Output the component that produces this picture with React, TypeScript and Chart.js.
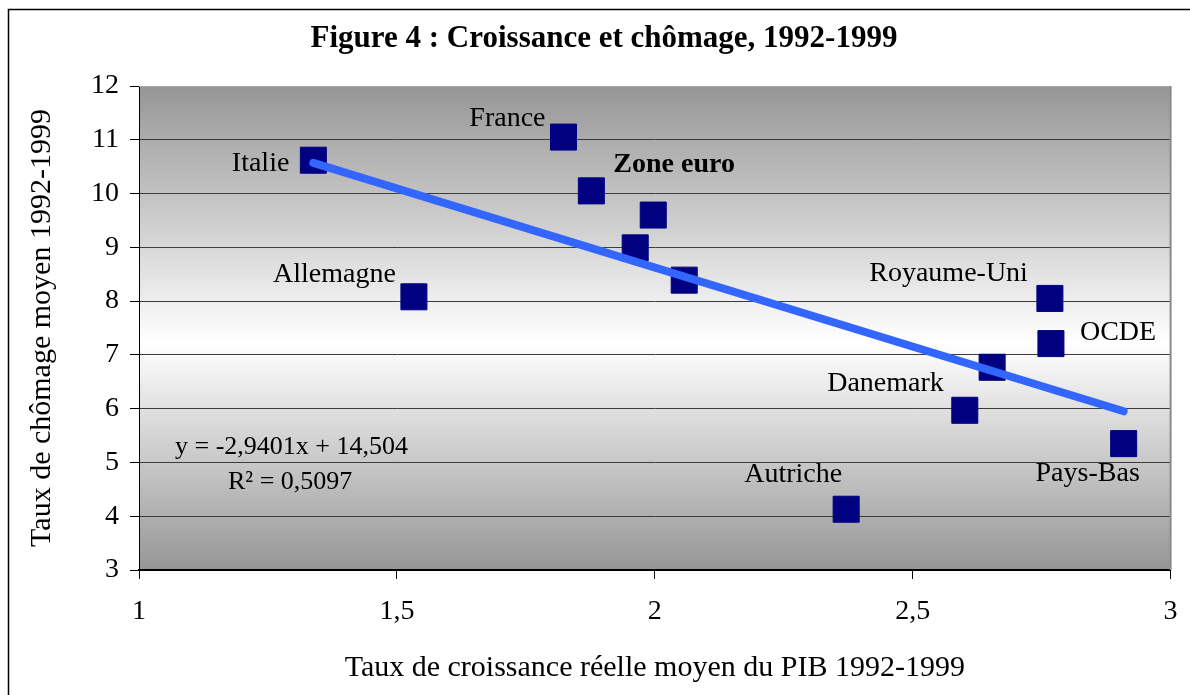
import React, { useEffect, useRef } from 'react';
import { Chart, registerables } from 'chart.js';

Chart.register(...registerables);

// ---- Data ----
const chartTitle = 'Figure 4 : Croissance et chômage, 1992-1999';
const xAxisTitle = 'Taux de croissance réelle moyen du PIB 1992-1999';
const yAxisTitle = 'Taux de chômage moyen 1992-1999';

const countryNames = ['Italie', 'France', 'Zone euro', '', '', '', 'Allemagne', 'Royaume-Uni', 'OCDE', '', 'Danemark', 'Pays-Bas', 'Autriche'];
const growthRates = [1.338, 1.823, 1.877, 1.997, 1.962, 2.057, 1.533, 2.766, 2.768, 2.654, 2.601, 2.909, 2.371];
const unemploymentRates = [10.62, 11.05, 10.05, 9.6, 8.99, 8.39, 8.08, 8.05, 7.21, 6.77, 5.97, 5.35, 4.13];

const trendSlope = -2.9401;
const trendIntercept = 14.504;
const rSquared = 0.5097;
const trendFrom = 1.338;
const trendTo = 2.909;

const xMin = 1;
const xMax = 3;
const xStep = 0.5;
const yMin = 3;
const yMax = 12;
const yStep = 1;

// ---- Styling (label placement relative to each point, in px) ----
const labelPlacement: { dx: number; dy: number; align: CanvasTextAlign; bold?: boolean }[] = [
  { dx: -24, dy: 3, align: 'right' },   // Italie
  { dx: -18, dy: -18, align: 'right' }, // France
  { dx: 22, dy: -26, align: 'left', bold: true }, // Zone euro
  { dx: 0, dy: 0, align: 'left' },
  { dx: 0, dy: 0, align: 'left' },
  { dx: 0, dy: 0, align: 'left' },
  { dx: -18, dy: -22, align: 'right' }, // Allemagne
  { dx: -22, dy: -25, align: 'right' }, // Royaume-Uni
  { dx: 29, dy: -11, align: 'left' },   // OCDE
  { dx: 0, dy: 0, align: 'left' },
  { dx: -21, dy: -27, align: 'right' }, // Danemark
  { dx: -36, dy: 30, align: 'center' }, // Pays-Bas
  { dx: -53, dy: -35, align: 'center' }, // Autriche
];

const SERIF = '"Liberation Serif", "Times New Roman", serif';
const fmt = (v: number) => String(v).replace('.', ',');

const decorPlugin = {
  id: 'decor',
  beforeDraw(chart: any) {
    const { ctx, chartArea: a } = chart;
    ctx.save();
    ctx.fillStyle = '#ffffff';
    ctx.fillRect(0, 0, chart.width, chart.height);
    // outer frame
    ctx.strokeStyle = '#000000';
    ctx.lineWidth = 1.5;
    ctx.beginPath();
    ctx.moveTo(8.5, chart.height + 5);
    ctx.lineTo(8.5, 9.5);
    ctx.lineTo(chart.width + 5, 9.5);
    ctx.stroke();
    // plot area gradient
    const g = ctx.createLinearGradient(0, a.top, 0, a.bottom);
    g.addColorStop(0, '#969696');
    g.addColorStop(0.53, '#ffffff');
    g.addColorStop(1, '#969696');
    ctx.fillStyle = g;
    ctx.fillRect(a.left, a.top, a.right - a.left, a.bottom - a.top);
    ctx.restore();
  },
  beforeDatasetsDraw(chart: any) {
    const { ctx, chartArea: a } = chart;
    ctx.save();
    ctx.strokeStyle = '#a6a6a6';
    ctx.lineWidth = 1;
    ctx.beginPath();
    ctx.moveTo(a.left, a.top + 0.5);
    ctx.lineTo(a.right, a.top + 0.5);
    ctx.stroke();
    ctx.strokeStyle = '#8a8a8a';
    ctx.lineWidth = 2;
    ctx.beginPath();
    ctx.moveTo(a.right, a.top);
    ctx.lineTo(a.right, a.bottom);
    ctx.stroke();
    ctx.restore();
  },
  afterDraw(chart: any) {
    const { ctx, chartArea: a } = chart;
    const xs = chart.scales.x;
    const ys = chart.scales.y;
    ctx.save();
    ctx.fillStyle = '#000000';
    // title
    ctx.font = `bold 31px ${SERIF}`;
    ctx.textAlign = 'center';
    ctx.textBaseline = 'alphabetic';
    ctx.fillText(chartTitle, 604, 47);
    // x axis title
    ctx.font = `30px ${SERIF}`;
    ctx.fillText(xAxisTitle, (a.left + a.right) / 2, 676);
    // y axis title
    ctx.save();
    ctx.translate(50, (a.top + a.bottom) / 2);
    ctx.rotate(-Math.PI / 2);
    ctx.fillText(yAxisTitle, 0, 0);
    ctx.restore();
    // point labels
    ctx.textBaseline = 'middle';
    countryNames.forEach((name, i) => {
      if (!name) return;
      const p = labelPlacement[i];
      const px = xs.getPixelForValue(growthRates[i]);
      const py = ys.getPixelForValue(unemploymentRates[i]);
      ctx.font = `${p.bold ? 'bold ' : ''}28px ${SERIF}`;
      ctx.textAlign = p.align;
      ctx.fillText(name, px + p.dx, py + p.dy);
    });
    // regression equation
    ctx.font = `26px ${SERIF}`;
    ctx.textAlign = 'left';
    const sign = trendIntercept >= 0 ? '+' : '-';
    ctx.fillText(`y = ${fmt(trendSlope)}x ${sign} ${fmt(Math.abs(trendIntercept))}`, a.left + 36, 447);
    ctx.fillText(`R² = ${fmt(rSquared)}`, a.left + 89, 482);
    ctx.restore();
  },
};

export default function App() {
  const canvasRef = useRef<HTMLCanvasElement | null>(null);

  useEffect(() => {
    if (!canvasRef.current) return;
    const points = growthRates.map((x, i) => ({ x, y: unemploymentRates[i] }));
    const trend = [trendFrom, trendTo].map((x) => ({ x, y: trendSlope * x + trendIntercept }));

    const chart = new Chart(canvasRef.current, {
      type: 'scatter',
      data: {
        datasets: [
          {
            type: 'line',
            label: 'Tendance',
            data: trend,
            borderColor: '#3366ff',
            borderWidth: 8,
            borderCapStyle: 'round',
            pointRadius: 0,
            fill: false,
            order: 0,
          } as any,
          {
            label: 'Pays',
            data: points,
            pointStyle: 'rect',
            pointRadius: 18.4,
            backgroundColor: '#000080',
            borderColor: '#000080',
            borderWidth: 1,
            order: 1,
          },
        ],
      },
      options: {
        responsive: false,
        animation: false,
        layout: { padding: { top: 86, right: 8.6, left: 0, bottom: 0 } },
        plugins: {
          legend: { display: false },
          tooltip: { enabled: false },
          title: { display: false },
        },
        scales: {
          x: {
            type: 'linear',
            min: xMin,
            max: xMax,
            afterFit: (s: any) => { s.height = 125; s.paddingLeft = 0; s.paddingRight = 0; },
            ticks: {
              stepSize: xStep,
              color: '#000',
              font: { family: SERIF, size: 28 },
              padding: 16,
              maxRotation: 0,
              callback: (v: any) => fmt(Number(v)),
            },
            grid: { drawOnChartArea: false, tickLength: 9, tickColor: '#000', tickWidth: 1 },
            border: { color: '#000', width: 2 },
          },
          y: {
            type: 'linear',
            min: yMin,
            max: yMax,
            afterFit: (s: any) => { s.width = 139; s.paddingTop = 0; s.paddingBottom = 0; },
            ticks: {
              stepSize: yStep,
              color: '#000',
              font: { family: SERIF, size: 28 },
              padding: 11,
              callback: (v: any) => fmt(Number(v)),
            },
            grid: {
              color: (c: any) => (c.tick && c.tick.value === yMax ? 'rgba(0,0,0,0)' : '#3c3c3c'),
              tickColor: '#000',
              tickLength: 9,
              lineWidth: 1,
            },
            border: { color: '#000', width: 1 },
          },
        },
      },
      plugins: [decorPlugin],
    });
    return () => chart.destroy();
  }, []);

  return (
    <div style={{ position: 'absolute', left: 0, top: 0, width: 1190, height: 695 }}>
      <canvas ref={canvasRef} width={1190} height={695} style={{ display: 'block' }} />
    </div>
  );
}
